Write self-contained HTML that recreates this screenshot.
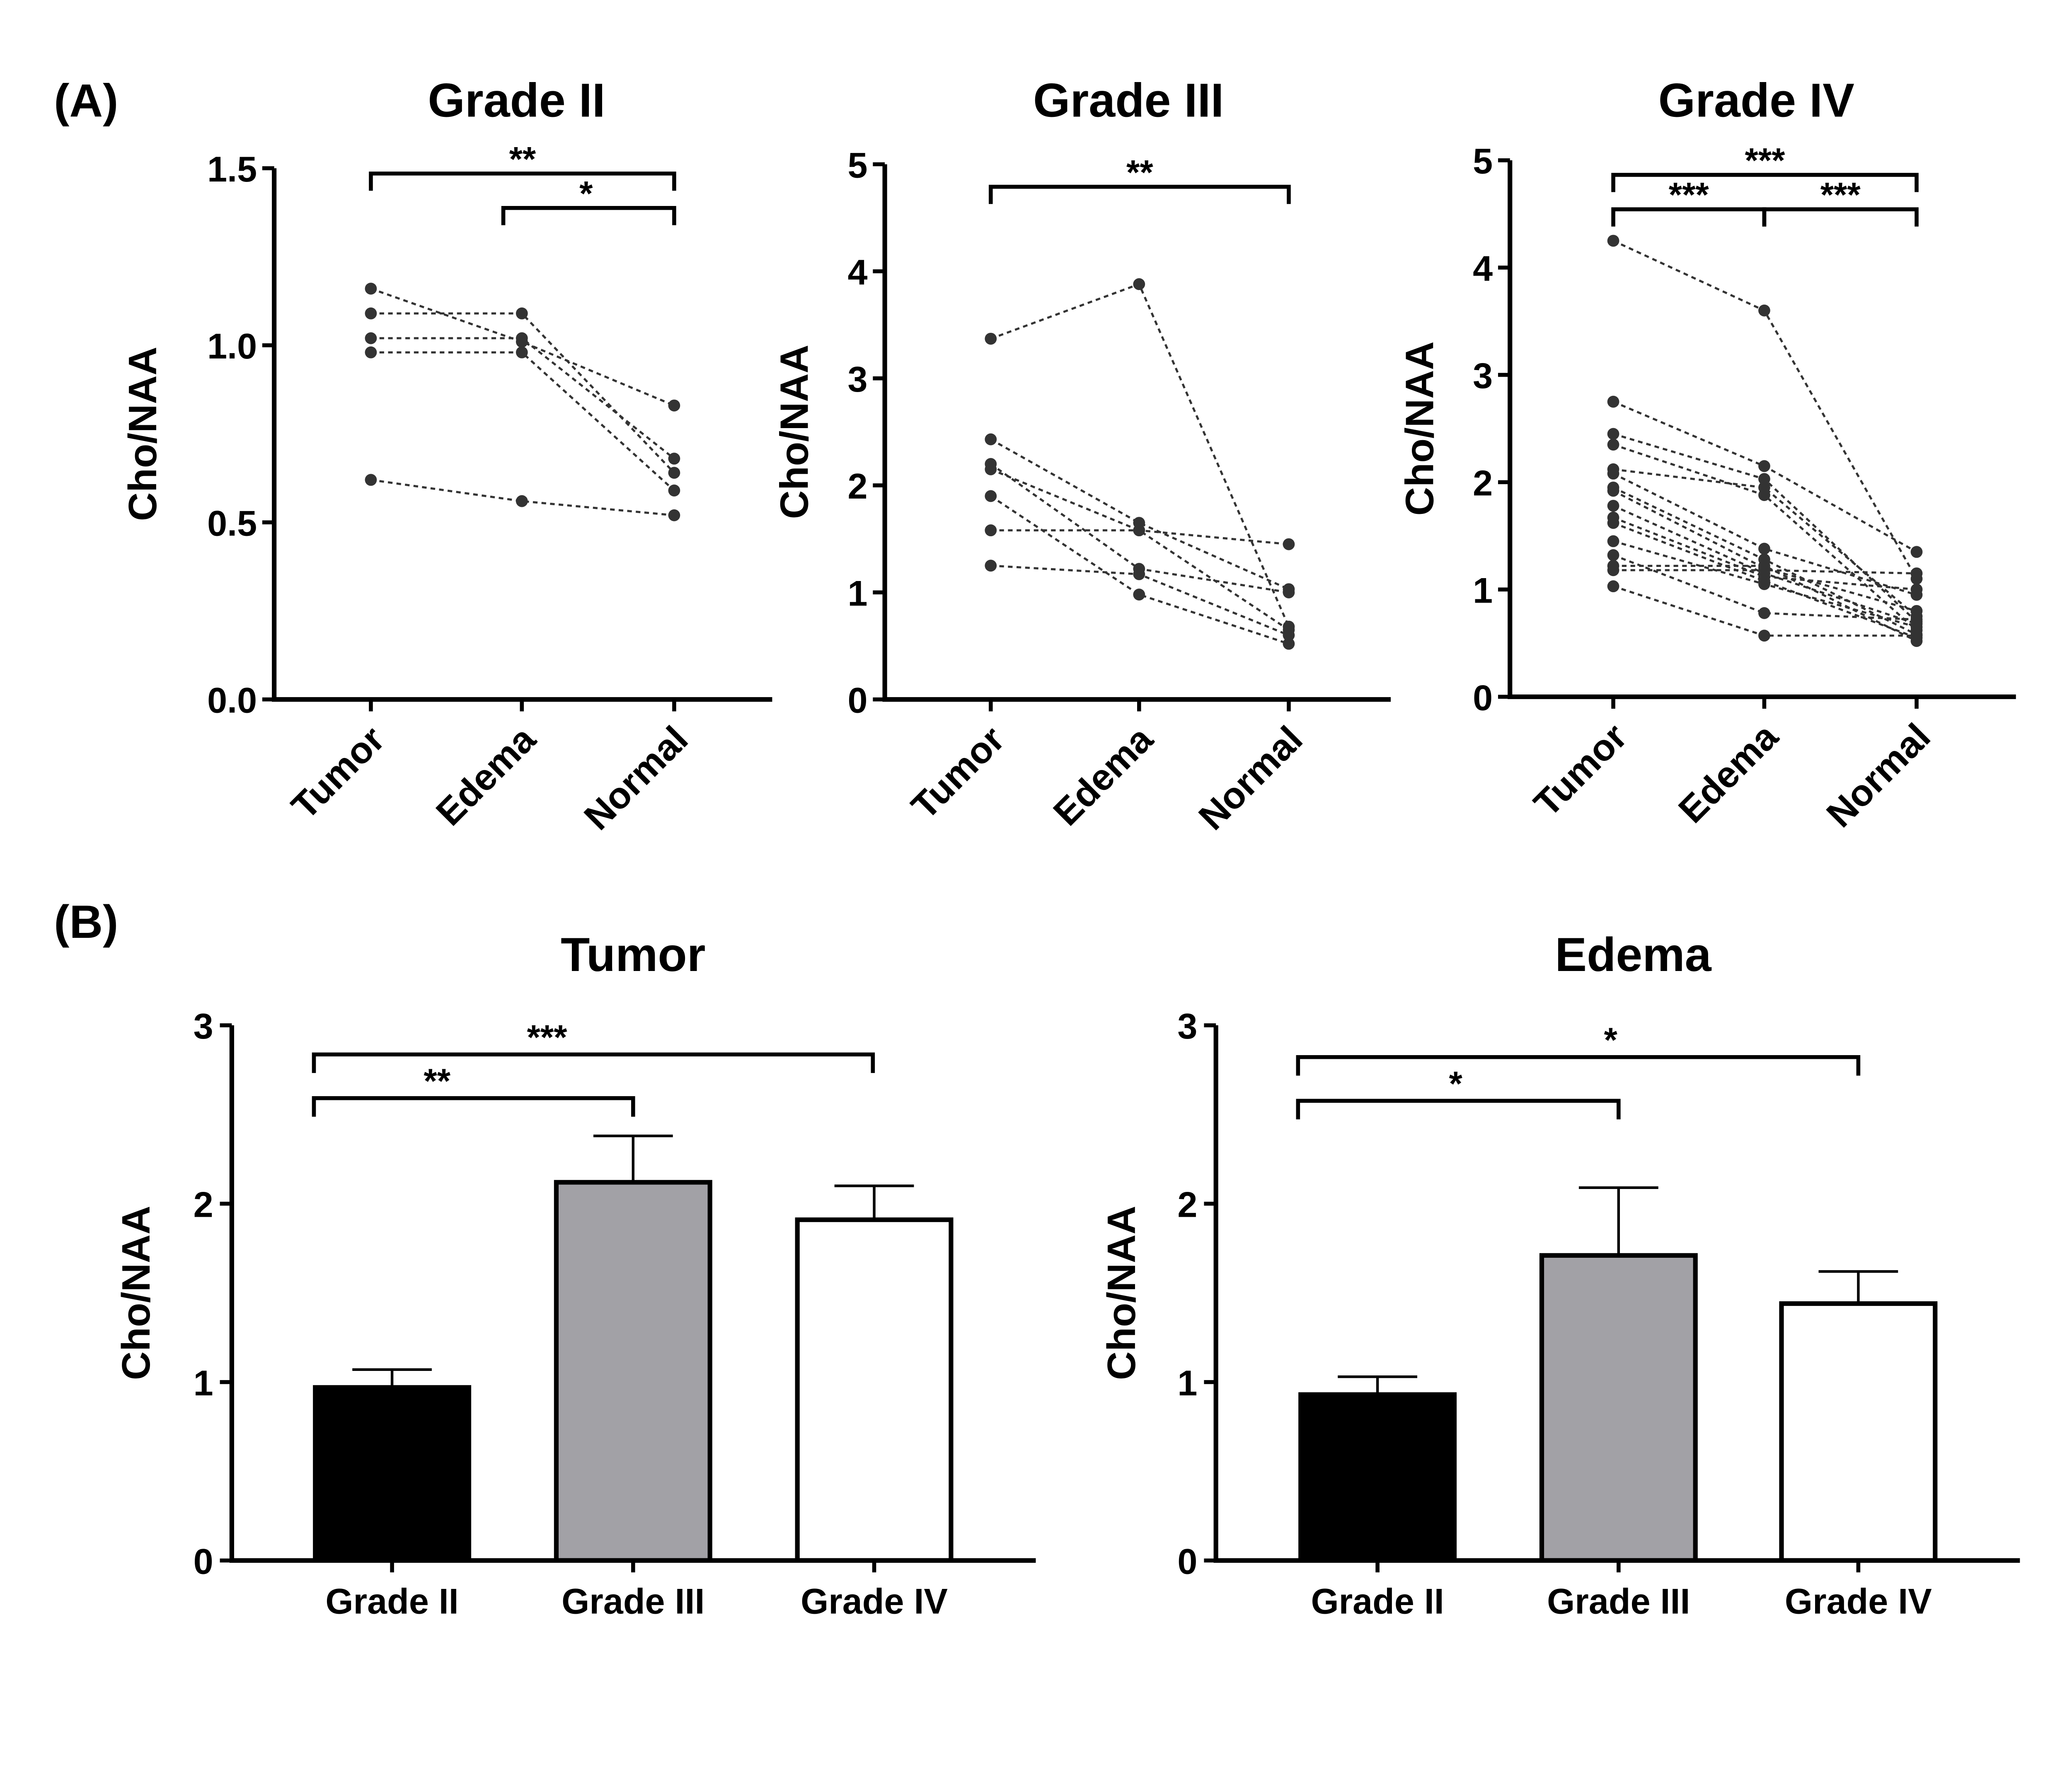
<!DOCTYPE html>
<html><head><meta charset="utf-8"><style>
html,body{margin:0;padding:0;background:#fff;overflow:hidden;}
svg{display:block;font-family:"Liberation Sans",Arial,sans-serif;font-weight:bold;}
</style></head><body>
<svg id="fig" width="5309" height="4312" viewBox="0 0 1661 1349" preserveAspectRatio="none" xmlns="http://www.w3.org/2000/svg">
<rect width="1661" height="1349" fill="#fff"/>
<text x="65" y="88" font-size="35" text-anchor="middle">(A)</text>
<text x="65" y="708" font-size="35" text-anchor="middle">(B)</text>
</svg>
<script>
const categories = ["Tumor","Edema","Normal"];
const g2Subjects = [[1.16,1.01,0.83],[1.09,1.09,0.64],[1.02,1.02,0.68],[0.98,0.98,0.59],[0.62,0.56,0.52]];
const g3Subjects = [[3.37,3.88,0.68],[2.43,1.65,1.03],[2.20,1.22,1.00],[2.15,1.58,0.65],[1.90,0.98,0.52],[1.58,1.58,1.45],[1.25,1.17,0.60]];
const g4Subjects = [[4.25,3.60,1.10],[2.75,2.15,1.35],[2.45,2.03,0.70],[2.35,1.88,0.62],[2.12,1.95,0.75],[2.08,1.38,0.95],[1.95,1.28,0.58],[1.92,1.20,0.80],[1.78,1.15,0.68],[1.67,1.12,1.00],[1.62,1.08,0.55],[1.45,1.05,0.65],[1.32,0.78,0.72],[1.22,1.22,0.52],[1.18,1.18,1.15],[1.03,0.57,0.57]];
const g2Ticks = ["0.0","0.5","1.0","1.5"];
const g2TickVals = [0,0.5,1,1.5];
const g345TickVals = [0,1,2,3,4,5];
const barCategories = ["Grade II","Grade III","Grade IV"];
const tumorMeans = [0.97,2.12,1.91];
const tumorErr = [0.10,0.26,0.19];
const edemaMeans = [0.93,1.71,1.44];
const edemaErr = [0.10,0.38,0.18];
const barTicks = [0,1,2,3];

const NS="http://www.w3.org/2000/svg";
const svg=document.getElementById('fig');
function mk(tag,attrs,parent){const e=document.createElementNS(NS,tag);for(const k in attrs)e.setAttribute(k,attrs[k]);(parent||svg).appendChild(e);return e;}
function txt(x,y,s,size,anchor,parent){const t=mk('text',{x:x,y:y,'font-size':size,'text-anchor':anchor||'middle'},parent);t.textContent=s;return t;}

function linePanel(o){
  const g=mk('g',{});
  
  
  const yS=v=>o.y0-(v-0)*(o.y0-o.yTop)/o.yMax;
  const xS=i=>o.cx[i];
  const t=txt(o.titleX,88,o.title,36,'middle',g);
  
  
  const ax=mk('path',{d:`M${o.ax},${o.yTop} V${o.y0} H${o.axEnd}`,stroke:'#000','stroke-width':3.5,fill:'none'},g);
  
  
  o.tickVals.forEach((v,i)=>{
    mk('line',{x1:o.ax-9,x2:o.ax,y1:yS(v),y2:yS(v),stroke:'#000','stroke-width':3},g);
    const l=txt(o.ax-13,yS(v)+10,o.tickLabels[i],27,'end',g);
    
    
  });
  categories.forEach((c,i)=>{
    mk('line',{x1:xS(i),x2:xS(i),y1:o.y0,y2:o.y0+9,stroke:'#000','stroke-width':3},g);
    const l=txt(xS(i)+12,o.y0+32,c,28,'end',g);
    l.setAttribute('transform',`rotate(-45 ${xS(i)+12} ${o.y0+32})`);
    
    
  });
  const yt=txt(0,0,'Cho/NAA',30,'middle',g);
  yt.setAttribute('transform',`translate(${o.ytX},${(o.y0+o.yTop)/2}) rotate(-90)`);
  
  
  o.data.forEach(s=>{
    const pl=mk('polyline',{points:s.map((v,i)=>xS(i)+','+yS(v)).join(' '),fill:'none',stroke:'#333','stroke-width':1.6,'stroke-dasharray':'3.5,3'},g);
    
    
    s.forEach((v,i)=>{
      const c=mk('circle',{cx:xS(i),cy:yS(v),r:4.5,fill:'#333'},g);
      
      
    });
  });
  o.brackets.forEach(b=>{
    const p=mk('path',{d:`M${b.x1},${b.y+13} V${b.y} H${b.x2} V${b.y+13}`,stroke:'#000','stroke-width':3,fill:'none'},g);
    
    
    const s=txt((b.x1+b.x2)/2+(b.dx||0),b.y-2,b.s,26,'middle',g);
    
    
  });
}
linePanel({name:'grade-ii-panel',title:'Grade II',titleX:390,ax:207,axEnd:583,y0:528,yTop:127,yMax:1.5,cx:[280,394,509],
  tickVals:g2TickVals,tickLabels:g2Ticks,ytX:118,data:g2Subjects,
  brackets:[{x1:280,x2:509,y:131,s:'**'},{x1:380,x2:509,y:157,s:'*',dx:-2}]});
linePanel({name:'grade-iii-panel',title:'Grade III',titleX:852,ax:668,axEnd:1050,y0:528,yTop:124,yMax:5,cx:[748,860,973],
  tickVals:g345TickVals,tickLabels:g345TickVals.map(String),ytX:610,data:g3Subjects,
  brackets:[{x1:748,x2:973,y:141,s:'**'}]});
linePanel({name:'grade-iv-panel',title:'Grade IV',titleX:1326,ax:1140,axEnd:1522,y0:526,yTop:121,yMax:5,cx:[1218,1332,1447],
  tickVals:g345TickVals,tickLabels:g345TickVals.map(String),ytX:1082,data:g4Subjects,
  brackets:[{x1:1218,x2:1447,y:132,s:'***'},{x1:1218,x2:1332,y:158,s:'***'},{x1:1332,x2:1447,y:158,s:'***'}]});

function barPanel(o){
  const g=mk('g',{});
  
  
  const yS=v=>o.y0-v*(o.y0-o.yTop)/3;
  const t=txt(o.titleX,733,o.title,36,'middle',g);
  
  
  const fills=['#000','#a2a1a6','#fff'];
  o.means.forEach((m,i)=>{
    const cx=o.cx[i];
    const e=mk('path',{d:`M${cx},${yS(m)} V${yS(m+o.err[i])} M${cx-30},${yS(m+o.err[i])} H${cx+30}`,stroke:'#000','stroke-width':2},g);
    
    
    const r=mk('rect',{x:cx-58,y:yS(m),width:116,height:o.y0-yS(m),fill:fills[i],stroke:'#000','stroke-width':3.5},g);
    
    
    mk('line',{x1:cx,x2:cx,y1:o.y0,y2:o.y0+9,stroke:'#000','stroke-width':3},g);
    const l=txt(cx,1218,barCategories[i],27,'middle',g);
    
    
  });
  const ax=mk('path',{d:`M${o.ax},${o.yTop} V${o.y0} H${o.axEnd}`,stroke:'#000','stroke-width':3.5,fill:'none'},g);
  
  
  barTicks.forEach(v=>{
    mk('line',{x1:o.ax-9,x2:o.ax,y1:yS(v),y2:yS(v),stroke:'#000','stroke-width':3},g);
    const l=txt(o.ax-14,yS(v)+10,String(v),27,'end',g);
    
    
  });
  const yt=txt(0,0,'Cho/NAA',30,'middle',g);
  yt.setAttribute('transform',`translate(${o.ytX},${(o.y0+o.yTop)/2}) rotate(-90)`);
  
  
  o.brackets.forEach(b=>{
    const p=mk('path',{d:`M${b.x1},${b.y+14} V${b.y} H${b.x2} V${b.y+14}`,stroke:'#000','stroke-width':3,fill:'none'},g);
    
    
    const s=txt(b.sx,b.y-4,b.s,26,'middle',g);
    
    
  });
}
barPanel({name:'tumor-bar-panel',title:'Tumor',titleX:478,ax:175,axEnd:782,y0:1178,yTop:774,cx:[296,478,660],means:tumorMeans,err:tumorErr,ytX:113,
  brackets:[{x1:237,x2:659,y:796,s:'***',sx:413},{x1:237,x2:478,y:829,s:'**',sx:330}]});
barPanel({name:'edema-bar-panel',title:'Edema',titleX:1233,ax:918,axEnd:1525,y0:1178,yTop:774,cx:[1040,1222,1403],means:edemaMeans,err:edemaErr,ytX:857,
  brackets:[{x1:980,x2:1403,y:798,s:'*',sx:1216},{x1:980,x2:1222,y:831,s:'*',sx:1099}]});
</script>
</body></html>
